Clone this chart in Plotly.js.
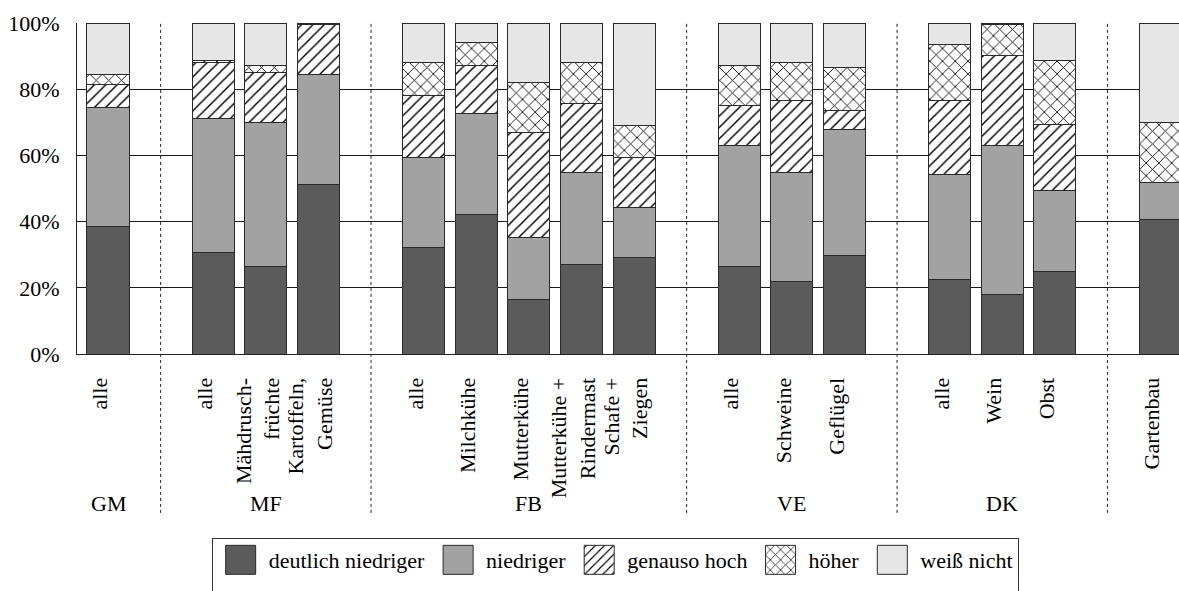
<!DOCTYPE html>
<html>
<head>
<meta charset="utf-8">
<script src="https://cdn.plot.ly/plotly-3.0.1.min.js"></script>
<style>
  html, body { margin: 0; padding: 0; background: #ffffff; }
  #wrap { position: relative; width: 1179px; height: 591px; }
  #warm { position: absolute; left: 20px; top: 560px; font-family: 'Liberation Serif'; font-size: 22px; color: #ffffff; z-index: 0; }
  #chart { position: absolute; left: 0; top: 0; width: 1179px; height: 591px; z-index: 1; }
</style>
</head>
<body>
<div id="wrap">
<div id="warm">Liberation Serif</div>
<div id="chart"></div>
</div>
<script>
// ---- data ----
const categories = ['alle', 'alle', 'Mähdrusch-<br>früchte', 'Kartoffeln,<br>Gemüse',
  'alle', 'Milchkühe', 'Mutterkühe', 'Mutterkühe +<br>Rindermast', 'Schafe +<br>Ziegen',
  'alle', 'Schweine', 'Geflügel', 'alle', 'Wein', 'Obst', 'Gartenbau'];
const groups = ['GM', 'MF', 'MF', 'MF', 'FB', 'FB', 'FB', 'FB', 'FB',
  'VE', 'VE', 'VE', 'DK', 'DK', 'DK', ''];
const seriesNames = ['deutlich niedriger', 'niedriger', 'genauso hoch', 'höher', 'weiß nicht'];
const deutlichNiedriger = [38.4, 30.8, 26.4, 51.1, 32.3, 42.1, 16.5, 27.1, 29.3, 26.4, 21.8, 29.9, 22.4, 18.1, 24.8, 40.6];
const niedriger         = [36.1, 40.5, 43.5, 33.2, 27.1, 30.7, 18.8, 27.8, 15.0, 36.7, 33.0, 37.8, 31.7, 45.0, 24.7, 11.2];
const genausoHoch       = [6.8, 16.7, 15.2, 15.1, 18.8, 14.5, 31.6, 20.9, 15.1, 12.1, 21.9, 6.0, 22.6, 27.1, 19.7, 0];
const hoeher            = [3.0, 0.7, 2.2, 0.4, 9.9, 6.7, 15.2, 12.3, 9.7, 12.1, 11.4, 12.8, 16.7, 9.2, 19.6, 18.1];
const weissNicht        = [15.7, 11.3, 12.7, 0.2, 11.9, 6.0, 17.9, 11.9, 30.9, 12.7, 11.9, 13.5, 6.6, 0.6, 11.2, 30.1];
const yTicks = [0, 20, 40, 60, 80, 100];

// ---- slot positions: one empty slot between groups ----
const xs = [], dividers = [];
let slot = 0, prev = null;
groups.forEach((g, i) => {
  if (prev !== null && g !== prev) { dividers.push(slot); slot++; }
  xs.push(slot); slot++; prev = g;
});
const groupNames = [...new Set(groups)].filter(g => g !== '');
const groupCenters = groupNames.map(g => {
  const p = xs.filter((x, i) => groups[i] === g);
  return p.reduce((a, b) => a + b, 0) / p.length;
});

const LINE = { color: '#2a2a2a', width: 1 };
const styles = [
  { color: '#5b5b5b' },
  { color: '#a2a2a2' },
  { color: '#ffffff', pattern: { shape: '/', fgcolor: '#000000', bgcolor: '#ffffff', fgopacity: 1, size: 8, solidity: 0.18, fillmode: 'replace' } },
  { color: '#ffffff', pattern: { shape: 'x', fgcolor: '#000000', bgcolor: '#ffffff', fgopacity: 1, size: 9, solidity: 0.18, fillmode: 'replace' } },
  { color: '#e6e6e6' }
];
const values = [deutlichNiedriger, niedriger, genausoHoch, hoeher, weissNicht];

const traces = values.map((v, k) => ({
  type: 'bar',
  name: seriesNames[k],
  x: xs,
  y: v,
  width: 0.8,
  marker: Object.assign({ line: LINE }, styles[k]),
  hoverinfo: 'skip'
}));

const shapes = dividers.map(d => ({
  type: 'line', xref: 'x', yref: 'paper',
  x0: d, x1: d, y0: -0.48, y1: 1,
  line: { color: '#222', width: 1, dash: 'dot' },
  layer: 'below'
}));

const annotations = groupNames.map((g, i) => ({
  text: g, xref: 'x', yref: 'paper', x: groupCenters[i], y: -0.453,
  xanchor: 'center', yanchor: 'middle', showarrow: false,
  font: { family: 'Liberation Serif', size: 22, color: '#000000' }
}));

const layout = {
  width: 1179, height: 591,
  margin: { l: 77, r: 0, t: 23, b: 237 },
  paper_bgcolor: '#ffffff', plot_bgcolor: '#ffffff',
  barmode: 'stack',
  xaxis: {
    range: [-0.59, xs[xs.length - 1] + 0.36],
    tickmode: 'array', tickvals: xs, ticktext: categories,
    tickangle: -90, ticks: '', showgrid: false, zeroline: false,
    showline: true, linecolor: '#222', linewidth: 1,
    ticklabelstandoff: 14, ticklabelshift: -8,
    tickfont: { family: 'Liberation Serif', size: 22, color: '#000000' },
    automargin: false, fixedrange: true
  },
  yaxis: {
    range: [0, 100], tickmode: 'array', tickvals: yTicks,
    ticktext: yTicks.map(t => t + '%'),
    ticks: '', showgrid: true, gridcolor: '#1a1a1a', gridwidth: 1,
    zeroline: false, showline: true, linecolor: '#222', linewidth: 1,
    ticklabelstandoff: 12,
    tickfont: { family: 'Liberation Serif', size: 22, color: '#000000' },
    automargin: false, fixedrange: true
  },
  showlegend: true,
  legend: {
    orientation: 'h', traceorder: 'normal',
    x: 0.1222, xanchor: 'left', y: -0.556, yanchor: 'top',
    bordercolor: '#333', borderwidth: 1, bgcolor: '#fff',
    font: { family: 'Liberation Serif', size: 22, color: '#000000' },
    itemwidth: 46, itemclick: false, itemdoubleclick: false
  },
  shapes: shapes,
  annotations: annotations
};

function draw() {
  return Plotly.newPlot('chart', traces, layout, { displayModeBar: false }).then(() => {
    document.querySelectorAll('#chart .legend .legendpoints path').forEach(p => {
      p.setAttribute('d', 'M15,14.5H-15V-14.5H15Z');
    });
    const bg = document.querySelector('#chart .legend rect.bg');
    if (bg) {
      const h = parseFloat(bg.getAttribute('height')) || 0;
      bg.setAttribute('height', h + 20);
    }
  });
}
if (document.fonts && document.fonts.load) {
  document.fonts.load('22px "Liberation Serif"').then(draw, draw);
} else {
  draw();
}
</script>
</body>
</html>
